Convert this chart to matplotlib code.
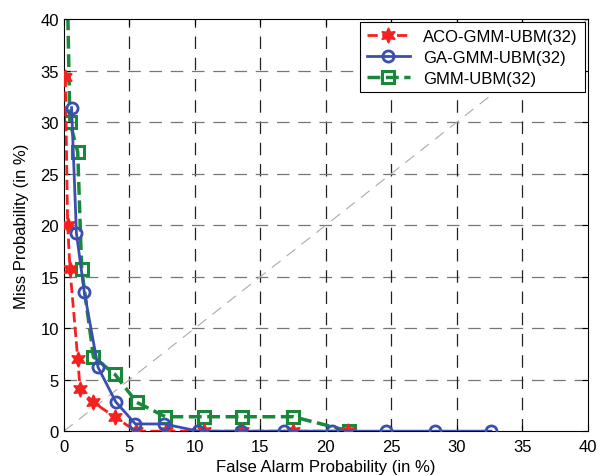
import matplotlib.pyplot as plt

plt.rcParams["font.family"] = ["Liberation Sans", "DejaVu Sans"]

# ACO-GMM-UBM(32)
aco_fa = [0.1, 0.28, 0.46, 1.05, 1.23, 2.25, 3.9, 5.5, 7.8, 10.7, 13.6, 17.5, 21.7]
aco_miss = [34.4, 20.0, 15.7, 7.05, 4.1, 2.8, 1.35, 0, 0, 0, 0, 0, 0]

# GA-GMM-UBM(32)
ga_fa = [0.58, 0.95, 1.55, 2.6, 3.95, 5.45, 7.65, 10.25, 13.5, 16.8, 20.5, 24.6, 28.3, 32.6]
ga_miss = [31.4, 19.2, 13.5, 6.2, 2.85, 0.7, 0.7, 0, 0, 0, 0, 0, 0, 0]

# GMM-UBM(32)
gmm_fa = [0.18, 0.45, 1.05, 1.35, 2.25, 3.9, 5.55, 7.75, 10.7, 13.6, 17.5, 21.8]
gmm_miss = [48, 30.0, 27.1, 15.7, 7.2, 5.5, 2.8, 1.4, 1.4, 1.4, 1.4, 0]

ticks = [0, 5, 10, 15, 20, 25, 30, 35, 40]

fig = plt.figure(figsize=(5.98, 4.77), dpi=100)
ax = fig.add_axes([0.107, 0.094, 0.876, 0.864])

for t in ticks[1:-1]:
    ax.axvline(t, color="#222222", lw=0.9, ls=(0, (10, 7)), zorder=0)
    ax.axhline(t, color="#777777", lw=0.9, ls=(0, (10, 7)), zorder=0)
ax.plot([0, 40], [0, 40], color="#aaaaaa", lw=0.8, ls=(0, (10, 7)), zorder=1)

ax.plot(aco_fa, aco_miss, color="#f52020", ls="--", lw=2, marker=(6, 1, 0),
        ms=11, mfc="#f52020", mec="#f52020", label="ACO-GMM-UBM(32)", zorder=3)
ax.plot(ga_fa, ga_miss, color="#3a4fae", ls="-", lw=2, marker="o",
        ms=8, mfc="none", mec="#3a4fae", mew=2, label="GA-GMM-UBM(32)", zorder=4)
ax.plot(gmm_fa, gmm_miss, color="#19883a", ls="--", lw=2.5, marker="s",
        ms=8, mfc="none", mec="#19883a", mew=2.2, label="GMM-UBM(32)", zorder=2)

ax.set_xlim(0, 40)
ax.set_ylim(0, 40)
ax.set_xticks(ticks)
ax.set_yticks(ticks)
ax.tick_params(direction="in", top=True, right=True, labelsize=12, length=4)
ax.tick_params(axis="x", pad=6)
ax.set_xlabel("False Alarm Probability (in %)", fontsize=12, labelpad=3)
ax.set_ylabel("Miss Probability (in %)", fontsize=12, labelpad=8)
for s in ax.spines.values():
    s.set_linewidth(0.8)

leg = ax.legend(loc="upper right", fontsize=12, fancybox=False, framealpha=1,
                edgecolor="black", borderaxespad=0.2, handlelength=2.6,
                borderpad=0.4, labelspacing=0.35)
leg.get_frame().set_linewidth(0.8)

fig.savefig("out.png", dpi=100)
